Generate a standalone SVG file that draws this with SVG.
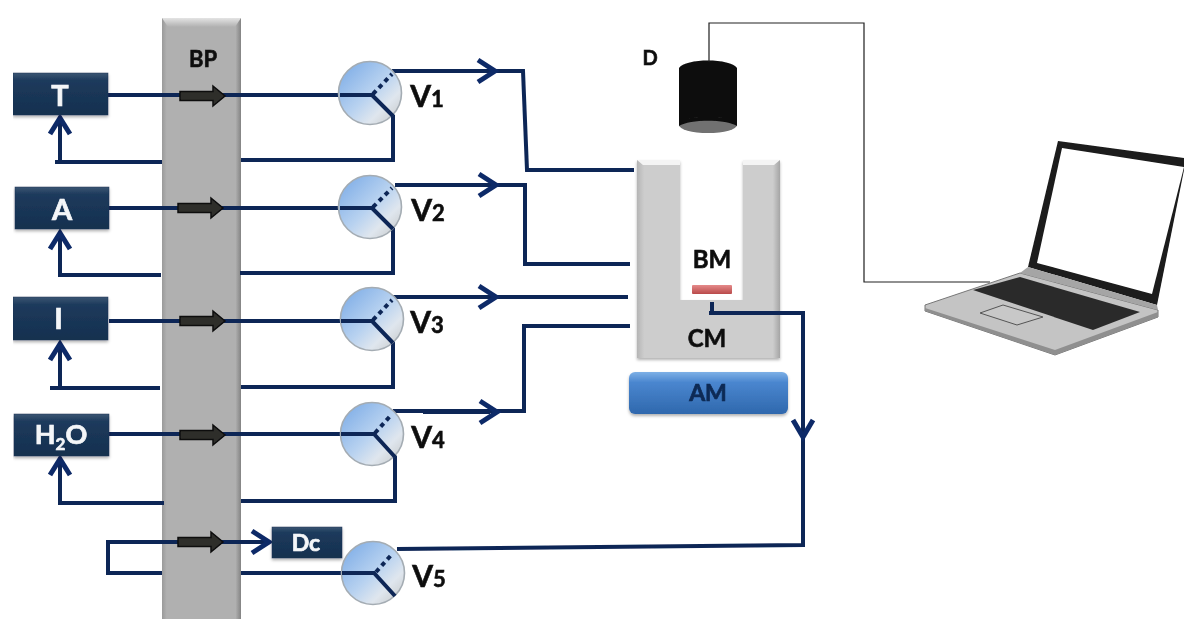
<svg xmlns="http://www.w3.org/2000/svg" width="1184" height="619" viewBox="0 0 1184 619">
<style>
.t{font-family:"Lato","Open Sans","Liberation Sans",sans-serif;font-weight:700}
.w{fill:#f4f6f8;stroke:#f4f6f8;stroke-width:.7;text-anchor:middle}
.k{fill:#111;stroke:#111;stroke-width:.6;text-anchor:middle}
.c{fill:none;stroke:#0f2757;stroke-width:4;stroke-linejoin:miter}
.ah{fill:none;stroke:#0f2a68;stroke-width:5}
.box{fill:url(#navy);stroke:#1a3354;stroke-width:.5;filter:url(#sh)}
.valve{fill:url(#ball);stroke:#a4acb3;stroke-width:1.6}
.vl{font-size:30px}
.vs{font-size:22px}
.pipe{fill:#2f2e2c;stroke:#0c0c0c;stroke-width:1.5}
</style>
<defs>
<linearGradient id="navy" x1="0" y1="0" x2="0" y2="1"><stop offset="0" stop-color="#3c5673"/><stop offset=".18" stop-color="#1c3a5c"/><stop offset="1" stop-color="#16304f"/></linearGradient>
<linearGradient id="bp" x1="0" y1="0" x2="1" y2="0"><stop offset="0" stop-color="#9a9a9a"/><stop offset=".06" stop-color="#b0b0b0"/><stop offset=".93" stop-color="#b0b0b0"/><stop offset="1" stop-color="#838383"/></linearGradient>
<linearGradient id="bptop" x1="0" y1="0" x2="0" y2="1"><stop offset="0" stop-color="#e4e4e4"/><stop offset="1" stop-color="#b0b0b0"/></linearGradient>
<linearGradient id="cm" x1="0" y1="0" x2="1" y2="0"><stop offset="0" stop-color="#b5b5b5"/><stop offset=".05" stop-color="#cdcdcd"/><stop offset=".95" stop-color="#cdcdcd"/><stop offset="1" stop-color="#a5a5a5"/></linearGradient>
<linearGradient id="am" x1="0" y1="0" x2="0" y2="1"><stop offset="0" stop-color="#7db0e6"/><stop offset=".25" stop-color="#4a86cf"/><stop offset="1" stop-color="#2f68ad"/></linearGradient>
<linearGradient id="red" x1="0" y1="0" x2="0" y2="1"><stop offset="0" stop-color="#e58a8a"/><stop offset="1" stop-color="#b94a4a"/></linearGradient>
<linearGradient id="ball" x1=".1" y1=".15" x2=".85" y2=".9"><stop offset="0" stop-color="#86b2e8"/><stop offset=".5" stop-color="#b8d2f0"/><stop offset=".8" stop-color="#dfe6ee"/><stop offset="1" stop-color="#cfd3d6"/></linearGradient>
<filter id="sh" x="-10%" y="-15%" width="120%" height="135%"><feDropShadow dx="0" dy="2" stdDeviation="1.6" flood-color="#000" flood-opacity=".3"/></filter>
<filter id="soft" x="0" y="0" width="100%" height="100%"><feGaussianBlur stdDeviation=".45"/></filter>
<symbol id="pipeArrow" overflow="visible"><path class="pipe" d="M0,-4.500H33V-10L45,0L33,10V4.500H0Z"/></symbol>
</defs>
<rect width="1184" height="619" fill="#fff"/>
<g filter="url(#soft)">
<g id="BP">
<rect x="162" y="18" width="79" height="601" fill="url(#bp)"/>
<path d="M162,18H241L235,27H168Z" fill="url(#bptop)"/>
<text class="t k" x="203" y="67" font-size="22">BP</text>
</g>

<g id="connectors">
<path class="c" d="M108,95H372L393,116V160H241"/>
<path class="c" d="M162,162H55M60,162V118"/>
<path class="c" d="M109,208H372L393,229V273H240"/>
<path class="c" d="M161,275H60V233"/>
<path class="c" d="M109,321H372L393,343V387H241"/>
<path class="c" d="M160,388H50M60,388V344"/>
<path class="c" d="M109,434H374L395,457V501H241"/>
<path class="c" d="M164,503H58M60,503V459"/>
<path class="c" d="M268,542H108V573H162"/>
<path class="c" d="M241,573H374L395,596"/>
<path class="c" d="M392,71H523L527,170H634"/>
<path class="c" d="M395,185H525V264H630"/>
<path class="c" d="M393,297H628"/>
<path class="c" d="M393,411H524V326H630"/>
<path class="c" d="M423,412H490" stroke-width="5"/>
<path class="c" d="M397,549L803,545V313H711"/>
<path class="ah" d="M50,134L60,118L70,134"/>
<path class="ah" d="M50,249L60,233L70,249"/>
<path class="ah" d="M50,360L60,344L70,360"/>
<path class="ah" d="M50,475L60,459L70,475"/>
<path class="ah" d="M478,60L495,71L478,82"/>
<path class="ah" d="M479,174L496,185L479,196"/>
<path class="ah" d="M479,286L496,297L479,308"/>
<path class="ah" d="M480,401L497,412L480,423"/>
<path class="ah" d="M252,531L269,542L252,553"/>
<path class="ah" d="M793,420L803,437L813,420"/>
<use href="#pipeArrow" x="180" y="96"/>
<use href="#pipeArrow" x="178" y="208"/>
<use href="#pipeArrow" x="180" y="321"/>
<use href="#pipeArrow" x="180" y="435"/>
<use href="#pipeArrow" x="178" y="542"/>
</g>

<g id="T"><rect class="box" x="13" y="73" width="95" height="42"/><text class="t w" x="60" y="106" font-size="29">T</text></g>
<g id="A"><rect class="box" x="15" y="187" width="94" height="42"/><text class="t w" x="62" y="220" font-size="29">A</text></g>
<g id="I"><rect class="box" x="13" y="297" width="95" height="43"/><text class="t w" x="58.500" y="329" font-size="29">I</text></g>
<g id="H2O"><rect class="box" x="14" y="414" width="95" height="42"/><text class="t w" x="61" y="444" font-size="27">H<tspan font-size="17" dy="6">2</tspan><tspan dy="-6">O</tspan></text></g>
<g id="Dc"><rect class="box" x="272" y="527" width="70" height="31"/><text class="t w" x="306" y="551" font-size="23">Dc</text></g>

<g id="V1"><circle class="valve" cx="370" cy="93" r="31.500"/><path class="c" d="M340,95H372L393,116"/><path class="c" d="M373,94L392,74" stroke-dasharray="4.500 4"/><text class="t k vl" x="427" y="107">V<tspan class="vs">1</tspan></text></g>
<g id="V2"><circle class="valve" cx="370" cy="207" r="31.500"/><path class="c" d="M340,208H372L393,229"/><path class="c" d="M373,207L392,188" stroke-dasharray="4.500 4"/><text class="t k vl" x="428" y="221">V<tspan class="vs">2</tspan></text></g>
<g id="V3"><circle class="valve" cx="372" cy="319" r="31.500"/><path class="c" d="M341,321H372L393,343"/><path class="c" d="M373,320L392,300" stroke-dasharray="4.500 4"/><text class="t k vl" x="427" y="333">V<tspan class="vs">3</tspan></text></g>
<g id="V4"><circle class="valve" cx="372" cy="434" r="31.500"/><path class="c" d="M341,434H374L395,457"/><path class="c" d="M375,433L392,414" stroke-dasharray="4.500 4"/><text class="t k vl" x="428" y="448">V<tspan class="vs">4</tspan></text></g>
<g id="V5"><circle class="valve" cx="373" cy="573" r="31.500"/><path class="c" d="M342,573H374L395,596"/><path class="c" d="M376,572L393,553" stroke-dasharray="4.500 4"/><text class="t k vl" x="429" y="587">V<tspan class="vs">5</tspan></text></g>

<g id="D">
<path d="M679,68C685,58 731,58 737,68V125C731,118 685,118 679,125Z" fill="#0c0c0c"/>
<ellipse cx="708" cy="125" rx="29" ry="8" fill="#717171"/>
<path d="M679,122C690,115 726,115 737,122V126C726,119 690,119 679,126Z" fill="#0c0c0c"/>
<text class="t k" x="650" y="65" font-size="20">D</text>
</g>

<g id="cable"><path d="M709,62V23H864V282H990" fill="none" stroke="#222" stroke-width="1.200"/></g>

<g id="CM">
<path d="M637,160H680V300H743V160H780V358H637Z" fill="url(#cm)" filter="url(#sh)"/>
<path d="M637,160H680V165H643ZM743,160H780L774,165H743Z" fill="#f4f4f4"/>
<text class="t k" x="707" y="347" font-size="24">CM</text>
</g>
<g id="BM">
<rect x="692" y="285" width="40" height="9" rx="1" fill="url(#red)"/>
<text class="t k" x="712" y="268" font-size="24">BM</text>
</g>
<path class="c" d="M712,302V313"/>
<path class="c" d="M709,313H803"/>

<g id="AM">
<rect x="629" y="372" width="159" height="42" rx="6" fill="url(#am)" filter="url(#sh)"/>
<text class="t" x="708" y="401" font-size="23" fill="#0e2a55" stroke="#0e2a55" stroke-width=".7" text-anchor="middle">AM</text>
</g>

<g id="laptop">
<path d="M925,305L1020,273L1158,310V317L1055,355L925,311Z" fill="#c4c4c4" stroke="#777" stroke-width="1"/>
<path d="M925,308L1055,350L1158,312V317L1055,355L925,311Z" fill="#8f8f8f"/>
<path d="M1058,141L1184,158V170L1157,305L1028,267Z" fill="#1a1a1a"/>
<path d="M1062,148L1184,167L1152,294L1037,263Z" fill="#fff"/>
<path d="M1028,267L1157,305L1158,310L1020,273Z" fill="#a5a5a5"/>
<path d="M973,290L1020,277L1140,312L1093,330Z" fill="#2b2b2b"/>
<path d="M980,313L1003,305L1043,317L1017,325Z" fill="#c8c8c8" stroke="#555" stroke-width="1"/>
</g>
</g>
</svg>
